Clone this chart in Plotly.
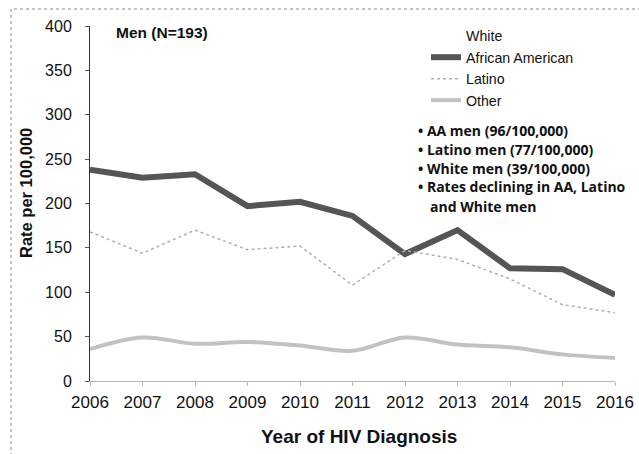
import plotly.graph_objects as go

years = [2006, 2007, 2008, 2009, 2010, 2011, 2012, 2013, 2014, 2015, 2016]
aa = [238, 229, 233, 197, 202, 186, 143, 170, 127, 126, 97]
latino = [168, 144, 170, 148, 152, 108, 147, 137, 115, 86, 77]
other = [36, 49, 42, 44, 40, 34, 49, 41, 38, 30, 26]
y_ticks = [0, 50, 100, 150, 200, 250, 300, 350, 400]
notes = ["AA men (96/100,000)", "Latino men (77/100,000)",
         "White men (39/100,000)", "Rates declining in AA, Latino"]
note_tail = "and White men"

# plot area in pixels: x 90..615, y 26..381
L, R, T, B = 90, 615, 26, 381
W, H = 639, 454
def px(x):
    return (x - L) / (R - L)
def py(y):
    return (B - y) / (B - T)

fig = go.Figure()
fig.add_trace(go.Scatter(x=[None], y=[None], name="White", mode="lines",
                         line=dict(color="white", width=2)))
fig.add_trace(go.Scatter(x=years, y=aa, name="African American", mode="lines",
                         line=dict(color="#555555", width=6)))
fig.add_trace(go.Scatter(x=years, y=latino, name="Latino", mode="lines",
                         line=dict(color="#b0b0b0", width=1.5, dash="dot")))
fig.add_trace(go.Scatter(x=years, y=other, name="Other", mode="lines",
                         line=dict(color="#c2c2c2", width=4, shape="spline")))

fig.update_layout(
    width=W, height=H,
    margin=dict(l=L, r=W - R, t=T, b=H - B),
    paper_bgcolor="white", plot_bgcolor="white",
    font=dict(family="Liberation Sans", color="#111", size=14),
    showlegend=True,
    legend=dict(x=px(426), y=py(20), xanchor="left", yanchor="top",
                bgcolor="rgba(0,0,0,0)", font=dict(size=14.2),
                tracegroupgap=0, itemwidth=30),
    xaxis=dict(range=[2006, 2016], tickvals=years, showgrid=False, automargin=False,
               showline=True, linecolor="#b5b5b5", linewidth=1,
               ticks="outside", ticklen=4, tickcolor="#b5b5b5",
               tickfont=dict(size=17), zeroline=False, ticklabelstandoff=2),
    yaxis=dict(range=[0, 400], tickvals=y_ticks, showgrid=False, automargin=False,
               showline=True, linecolor="#333", linewidth=1,
               ticks="outside", ticklen=4, tickcolor="#555",
               tickfont=dict(size=16), zeroline=False, ticklabelstandoff=10),
)

fig.add_annotation(xref="paper", yref="paper", x=px(359), y=py(436), xanchor="center", yanchor="middle",
                   text="<b>Year of HIV Diagnosis</b>", showarrow=False, font=dict(size=19))
fig.add_annotation(xref="paper", yref="paper", x=px(26), y=py(193), xanchor="center", yanchor="middle",
                   text="<b>Rate per 100,000</b>", showarrow=False, textangle=-90, font=dict(size=16.5))

fig.add_annotation(xref="paper", yref="paper", x=px(114), y=py(33), xanchor="left", yanchor="middle",
                   text="<b>Men (N=193)</b>", showarrow=False, font=dict(size=15.5))

ys = [130, 149, 168, 187]
for t, yy in zip(notes, ys):
    fig.add_annotation(xref="paper", yref="paper", x=px(416), y=py(yy), xanchor="left", yanchor="middle",
                       text="<b>• " + t + "</b>", showarrow=False, align="left",
                       font=dict(family="Open Sans", size=14))
fig.add_annotation(xref="paper", yref="paper", x=px(428), y=py(206), xanchor="left", yanchor="middle",
                   text="<b>" + note_tail + "</b>", showarrow=False, align="left",
                   font=dict(family="Open Sans", size=14))

fig.add_shape(type="rect", xref="paper", yref="paper", x0=px(11), x1=px(650), y0=py(465), y1=py(9),
              line=dict(color="#8a8a8a", width=1, dash="dot"))

fig.write_html("out.html", config={"displayModeBar": False},
               post_script="document.body.style.margin='0';")
